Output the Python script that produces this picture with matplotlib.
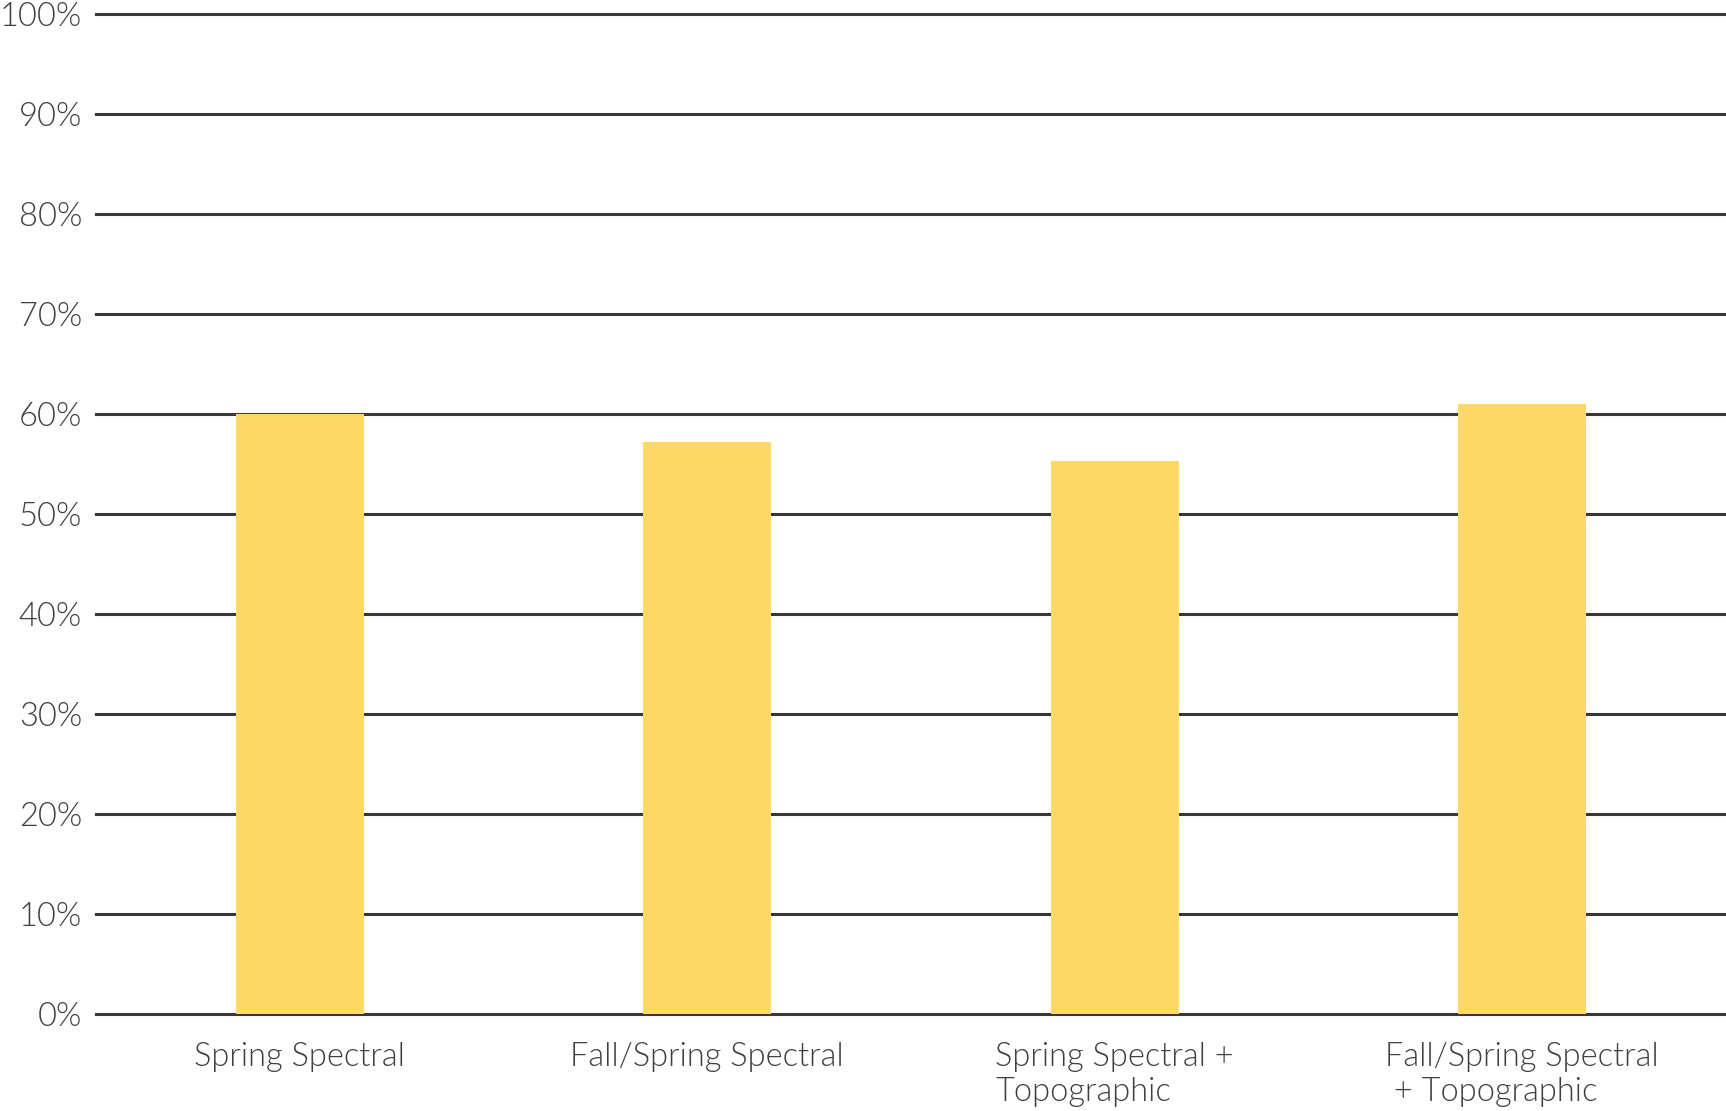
import matplotlib
matplotlib.use("Agg")
import matplotlib.pyplot as plt
from matplotlib.ticker import FuncFormatter

# data
categories = ["Spring Spectral",
              "Fall/Spring Spectral",
              "Spring Spectral +\nTopographic",
              "Fall/Spring Spectral\n + Topographic"]
values = [60.0, 57.2, 55.3, 61.0]
yticks = [0, 10, 20, 30, 40, 50, 60, 70, 80, 90, 100]

bar_color = "#FFD966"
grid_color = "#383838"
text_color = "#404040"

plt.rcParams['font.family'] = ['Lato', 'DejaVu Sans']
plt.rcParams['font.weight'] = 300

fig = plt.figure(figsize=(17.26, 11.11), dpi=100)
ax = fig.add_axes([96 / 1726, 97 / 1111, 1 - 96 / 1726, 1000 / 1111])

x = list(range(len(categories)))
ax.bar(x, values, width=0.314, color=bar_color, zorder=3)

ax.set_xlim(-0.5, 3.5)
ax.set_ylim(0, 100)
ax.set_yticks(yticks)
ax.yaxis.set_major_formatter(FuncFormatter(lambda v, p: "%d%%" % v))
ax.set_xticks(x)
ax.set_xticklabels(categories, multialignment='left')

# horizontal grid lines
for t in yticks:
    ax.axhline(t, color=grid_color, lw=2.2, zorder=1, clip_on=False)

for s in ax.spines.values():
    s.set_visible(False)

ax.tick_params(axis='y', length=0, pad=10, labelsize=23.5, labelcolor=text_color)
ax.tick_params(axis='x', length=0, pad=20, labelsize=23.5, labelcolor=text_color)

fig.savefig("out.png", dpi=100)
